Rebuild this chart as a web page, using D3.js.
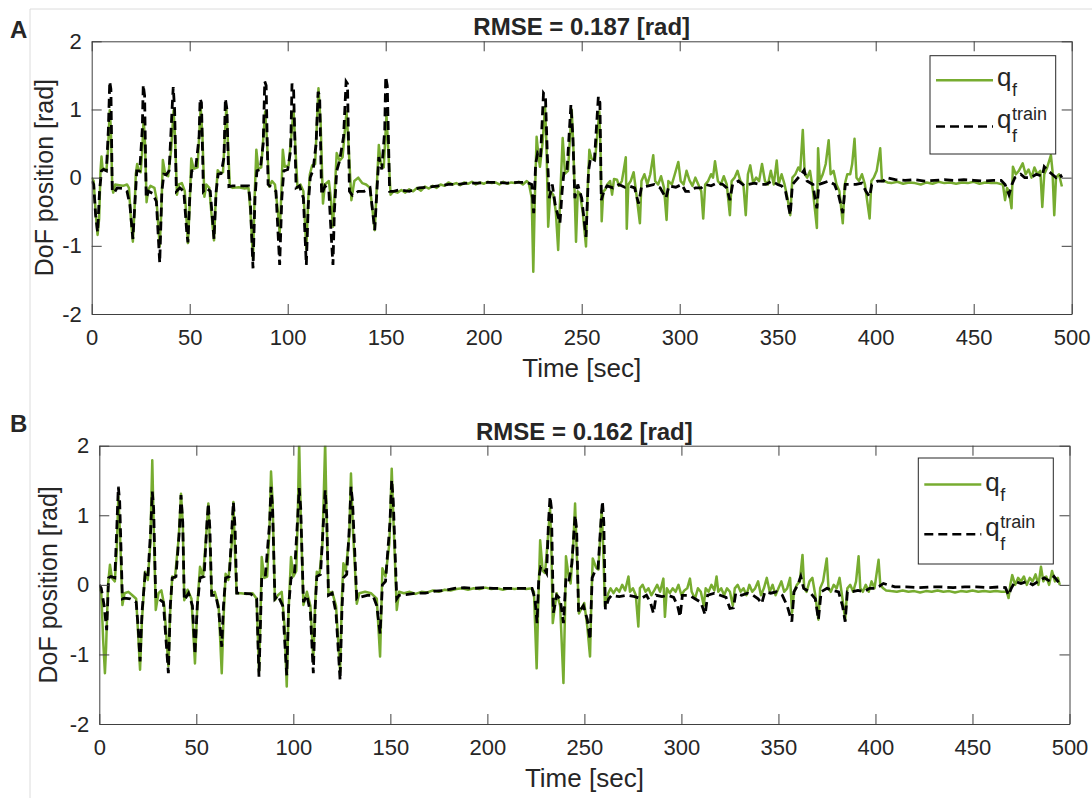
<!DOCTYPE html>
<html>
<head>
<meta charset="utf-8">
<script src="https://cdn.jsdelivr.net/npm/d3@7/dist/d3.min.js"></script>
<style>
  body { margin: 0; background: #fff; }
  svg text { font-family: "Liberation Sans", Arial, sans-serif; fill: #262626; }
</style>
</head>
<body>
<svg id="chart" width="1092" height="798"></svg>
<script>
// tick labels
const timeTicks = [0, 50, 100, 150, 200, 250, 300, 350, 400, 450, 500];
const posTicks = [-2, -1, 0, 1, 2];
const panelTitles = ['RMSE = 0.187 [rad]', 'RMSE = 0.162 [rad]'];
const panelLetters = ['A', 'B'];

// panel A: predicted q_f  [time sec, rad]
const predA = [[0,0.0],[1,-0.05],[2,-0.5],[3,-0.84],[3.8,-0.6],[4.5,0.1],[5,0.31],[5.5,0.15],[6.5,0.12],[7.5,0.1],[8.3,0.4],[9.2,0.99],[9.8,0.7],[10.5,-0.15],[11,-0.22],[12,-0.1],[14,-0.11],[16,-0.12],[18,-0.1],[19,-0.15],[20,-0.6],[21,-0.94],[21.8,-0.5],[22.5,0.05],[23.2,0.2],[24,0.1],[25,0.08],[25.8,0.4],[26.5,0.87],[27.2,0.5],[28,-0.36],[28.8,-0.18],[30,-0.12],[32,-0.15],[33,-0.3],[34.7,-1.01],[35.5,-0.5],[36.3,0.26],[37.5,0.05],[39,0.02],[40.5,0.4],[41.8,0.99],[42.5,0.6],[43.5,-0.25],[44.5,-0.1],[46,-0.08],[47.5,-0.2],[49.1,-0.96],[50,-0.4],[50.8,0.28],[52,0.13],[54,0.15],[55.6,1.04],[56.5,0.6],[57.5,-0.28],[58.5,-0.1],[60,-0.15],[61,-0.5],[62.4,-0.92],[63.3,-0.3],[64.3,0.11],[65.5,0.06],[67,0.08],[68.7,1.04],[69.5,0.5],[70.5,-0.13],[72,-0.15],[75,-0.14],[78,-0.16],[80,-0.15],[81,-0.5],[82.3,-1.2],[83,-0.4],[84,0.41],[85,0.13],[86.5,0.15],[88.5,0.97],[89.5,0.5],[90.5,-0.13],[92,-0.05],[93.5,-0.1],[95,-0.5],[95.9,-0.82],[96.8,-0.2],[97.5,0.41],[98.5,0.16],[100.5,0.18],[103,0.99],[104,0.4],[105,-0.15],[106.5,-0.1],[108,-0.2],[109.5,-1.05],[110.5,-0.3],[111.3,0.05],[112.5,0.18],[114,0.2],[115.7,1.31],[116.8,0.8],[118,-0.38],[119,-0.1],[121,-0.05],[122,-0.3],[123.1,-0.72],[124,-0.2],[125,0.36],[126.5,0.25],[128,0.3],[130,0.97],[131,0.5],[132.5,-0.33],[134,-0.05],[136,0.0],[138,-0.08],[140,-0.1],[142,-0.15],[144.4,-0.77],[145.5,-0.1],[146.5,0.48],[147.5,0.2],[149,0.15],[150.4,0.92],[151.3,0.4],[152.5,-0.25],[154,-0.2],
  [156,-0.22],[158,-0.18],[160,-0.22],[162,-0.17],[164,-0.2],[166,-0.15],[168,-0.19],[170,-0.13],[172,-0.16],[174,-0.12],[176,-0.15],[178,-0.1],[180,-0.12],[182,-0.07],[184,-0.1],[186,-0.08],[188,-0.11],[190,-0.07],[192,-0.09],[194,-0.06],[196,-0.1],[198,-0.07],[200,-0.09],[202,-0.06],[204,-0.08],[206,-0.07],[208,-0.1],[210,-0.06],[212,-0.09],[214,-0.07],[216,-0.08],[218,-0.06],[220,-0.1],[222,-0.05],[223,-0.08],
  [224.5,-0.3],[225.3,-1.38],[226,-0.4],[227,0.6],[228,0.3],[228.7,0.16],[230,0.5],[231.3,1.04],[232,0.5],[232.9,-0.72],[234,-0.2],[235.5,-0.25],[236.8,-0.5],[238,-1.06],[239,-0.3],[240.3,0.58],[241.5,0.06],[243,0.1],[244.9,1.0],[245.8,0.4],[247.1,-0.94],[248,-0.2],[249.1,-0.23],[250.5,-0.5],[252.2,-1.01],[253,-0.2],[253.9,0.41],[255,0.28],[256.8,0.26],[259,0.97],[259.6,0.4],[260.2,-0.64],[261,-0.2],[261.9,-0.18],
  [263,-0.1],[264.5,-0.05],[265.5,-0.25],[266.5,-0.02],[268,-0.03],[269,-0.12],[270.5,-0.05],[271.5,0.12],[272.5,0.3],[273,-0.75],[273.8,-0.1],[275,-0.05],[276.5,0.08],[277.5,-0.15],[279.7,-0.67],[280.5,-0.05],[282,0.05],[283.5,-0.1],[285,0.05],[286.5,0.33],[287.5,-0.05],[289,-0.1],[290.5,0.02],[292,-0.15],[293.3,-0.62],[294.2,-0.05],[296,-0.1],[297.5,0.05],[299.3,0.23],[300.5,-0.05],[302,-0.1],[303.5,0.1],[305,-0.04],[306.5,-0.12],[308,0.0],[309.5,-0.1],[311,-0.2],[312,-0.6],[313,-0.1],[314.5,-0.05],[316,0.05],[317,0.0],[318,0.24],[319.5,-0.05],[321,-0.1],[322.5,0.02],[324,-0.1],[325.6,-0.55],[326.5,-0.05],[328,0.0],[329.5,0.1],[331,-0.05],[332.5,-0.1],[333.7,-0.55],[334.8,0.05],[336,0.18],[337.5,-0.08],[339,0.0],[340.5,-0.05],[342,0.2],[343.5,-0.05],[345,-0.1],[346.5,0.1],[348,-0.1],[349.5,0.25],[350.5,-0.1],[352,0.05],[353.5,-0.1],[355,-0.3],[356.4,-0.55],[357.5,0.0],[359,0.05],[360.5,0.15],[361.5,0.1],[362.8,0.7],[363.8,0.05],[365,0.0],[366.5,0.1],[368,-0.2],[370,-0.74],[370.6,0.43],[371.5,-0.05],[373,0.05],[374.5,0.2],[376,0.55],[377,0.05],[378.5,0.1],[380,-0.1],[381.5,-0.2],[383.2,-0.67],[384.2,-0.1],[385.5,0.05],[387,0.05],[388,0.2],[389.2,0.57],[390.2,0.0],[391.5,-0.05],[393,0.05],[394.5,-0.1],[396.9,-0.6],[397.8,-0.05],[399,0.0],[400.5,0.1],[402.3,0.43],[403.2,-0.05],[404.5,-0.05],[406,-0.07],
  [408,-0.08],[411,-0.06],[414,-0.09],[417,-0.07],[420,-0.08],[423,-0.1],[426,-0.07],[429,-0.09],[432,-0.06],[435,-0.08],[438,-0.07],[441,-0.09],[444,-0.07],[447,-0.08],[450,-0.06],[453,-0.09],[456,-0.07],[459,-0.08],[462,-0.08],[464.9,-0.1],[466,-0.33],[467,-0.15],[468,-0.2],[469.3,-0.45],[470,0.16],[471.5,0.05],[473,0.1],[475,0.21],[476.5,0.05],[478,0.12],[479.5,0.0],[481,0.15],[482.5,0.05],[484,0.1],[485,-0.43],[486,0.05],[487.5,0.15],[489.4,0.33],[490.2,0.1],[491.1,-0.55],[492,0.0],[493.5,0.05],[495,-0.13]];

// panel A: training target q_f^train
const trainA = [[0,-0.05],[1,-0.1],[2,-0.55],[3,-0.8],[4,-0.2],[5,0.1],[6,0.12],[7.5,0.1],[8.5,0.7],[9.2,1.41],[9.8,1.3],[10.5,-0.2],[11.5,-0.22],[13,-0.15],[16,-0.16],[18,-0.2],[19.5,-0.4],[21,-0.9],[22,-0.4],[23,0.1],[24.5,0.1],[25.8,0.7],[26.3,1.36],[27,1.2],[27.8,-0.3],[29,-0.2],[31,-0.23],[33,-0.35],[34.7,-1.25],[35.8,-0.2],[36.8,0.05],[38,0.04],[39.5,0.1],[41,1.0],[41.6,1.33],[42.3,1.0],[43.2,-0.2],[45,-0.15],[47,-0.2],[48.5,-0.8],[49.1,-0.95],[50,-0.3],[51,0.1],[53,0.12],[54.8,0.6],[55.3,1.16],[56,1.1],[57,-0.2],[58.5,-0.15],[60.5,-0.2],[62.4,-0.9],[63.5,-0.2],[64.5,0.05],[66,0.06],[67.5,0.3],[68.2,1.16],[69,1.0],[70,-0.13],[72,-0.12],[76,-0.12],[80,-0.12],[81,-0.4],[82.3,-1.33],[83.3,-0.3],[84.3,0.1],[86,0.12],[87.5,0.5],[88.3,1.41],[89,1.35],[90,-0.1],[92,-0.15],[94,-0.2],[95.9,-1.28],[97,-0.3],[98,0.1],[100,0.12],[101.5,0.4],[102.2,1.38],[103,1.3],[104.3,-0.15],[106,-0.12],[108,-0.3],[109.5,-1.28],[110.5,-0.4],[111.5,0.0],[113,0.12],[114.5,0.5],[115.5,1.26],[116.3,1.2],[117.3,-0.25],[119,-0.12],[121,-0.2],[122.5,-1.0],[123.1,-1.28],[123.8,-0.5],[125,0.1],[126.5,0.25],[128.5,0.6],[129.8,1.41],[130.5,1.38],[131.5,-0.2],[133,-0.26],[136,-0.2],[139,-0.2],[142,-0.15],[144.4,-0.77],[145.5,-0.2],[146.5,0.3],[148,0.12],[149.5,0.7],[150,1.48],[150.8,1.35],[152,-0.2],[154,-0.2],
  [157,-0.18],[162,-0.2],[167,-0.15],[172,-0.14],[177,-0.12],[182,-0.1],[187,-0.1],[192,-0.08],[197,-0.08],[202,-0.07],[207,-0.07],[212,-0.08],[217,-0.07],[222,-0.07],
  [224.5,-0.1],[225.5,-0.52],[226.5,0.2],[227.5,0.36],[229,0.3],[230.5,1.24],[231.5,1.2],[232.5,0.3],[233.5,-0.3],[235,-0.1],[236.5,-0.4],[238.9,-0.67],[240,-0.2],[241,0.1],[242.5,0.1],[244.5,1.07],[245.5,0.6],[246.5,-0.3],[248,-0.1],[250,-0.3],[252.2,-0.87],[253.5,0.1],[254.5,0.29],[256.5,0.26],[258.5,1.19],[259.3,1.1],[260,-0.33],[261.5,-0.18],
  [263,-0.12],[266,-0.15],[269,-0.1],[272,-0.14],[274,-0.12],[277,-0.15],[279,-0.38],[280.5,-0.14],[284,-0.12],[287,-0.1],[290,-0.15],[293,-0.3],[294.5,-0.12],[298,-0.14],[301,-0.1],[303,-0.2],[305,-0.2],[308,-0.15],[311,-0.15],[313,-0.1],[316,-0.12],[319,-0.08],[322,-0.1],[324,-0.15],[325.6,-0.33],[327,-0.1],[330,-0.05],[333,-0.12],[335,-0.1],[338,-0.08],[341,-0.1],[344,-0.1],[347,-0.05],[350,-0.1],[352,-0.12],[354,-0.2],[356.4,-0.55],[357.5,-0.1],[359,-0.05],[362,0.05],[363.5,0.11],[365,-0.05],[368,-0.1],[369,-0.3],[370,-0.45],[371,-0.1],[373,-0.08],[376,-0.05],[379,-0.1],[381,-0.25],[383.2,-0.52],[384.5,-0.1],[387,-0.1],[390,-0.1],[393,-0.08],[395,-0.2],[396.9,-0.28],[398,-0.1],[401,-0.05],[404,-0.05],[405.4,0.0],
  [410,-0.03],[415,-0.04],[420,-0.03],[425,-0.05],[430,-0.04],[435,-0.03],[440,-0.04],[445,-0.03],[450,-0.04],[455,-0.05],[460,-0.04],[464,-0.04],[466,-0.1],[468,-0.25],[469.5,-0.1],[471,0.0],[474,0.05],[476,0.0],[479,0.0],[482,0.05],[485,0.02],[486,0.16],[488,0.1],[490,0.05],[492,0.0],[494,0.05],[495,0.0]];

// panel B: predicted q_f
const predB = [[0,-0.05],[1,-0.1],[2,-0.8],[2.9,-1.27],[3.5,-0.9],[4.5,0.0],[5.5,0.29],[6.5,0.1],[8,0.05],[9,0.5],[9.8,1.27],[10.6,0.8],[11.9,-0.29],[13,-0.12],[15,-0.1],[17,-0.15],[19,-0.2],[20,-0.7],[21,-1.22],[22,-0.5],[23.6,0.19],[25,0.07],[26.3,0.6],[27.3,1.79],[28,0.9],[29.1,-0.36],[30.5,-0.12],[32,-0.08],[33.5,-0.3],[35.6,-1.17],[36.5,-0.4],[37.6,0.12],[39,0.1],[41,0.7],[42.1,1.31],[43,0.9],[43.8,-0.22],[45.5,-0.07],[47.5,-0.2],[49.3,-1.13],[50.5,-0.3],[51.9,0.26],[53.5,0.12],[55.3,0.8],[56.2,1.17],[57,0.6],[57.9,-0.12],[59.5,-0.1],[61.5,-0.3],[63.1,-1.27],[64,-0.5],[65.1,0.16],[66.5,0.07],[68.3,0.6],[69.1,1.19],[70,0.4],[70.8,-0.12],[73,-0.12],[76,-0.13],[79,-0.12],[81.1,-0.2],[82.3,-1.25],[83.2,-0.3],[83.7,0.4],[85,0.1],[86.5,0.12],[87.7,0.8],[88.5,1.63],[89.3,1.2],[90.5,-0.22],[92,-0.15],[94,-0.1],[95.5,-0.6],[96.6,-1.46],[97.5,-0.4],[98.8,0.4],[100,0.12],[101.5,0.2],[102.3,1.0],[103,2.05],[103.8,1.0],[105.2,-0.29],[107,-0.1],[108.8,-0.3],[110.3,-1.08],[111.2,-0.3],[112.1,0.19],[113.5,0.15],[115,0.6],[116.4,2.05],[117.2,0.9],[118.1,-0.12],[120,-0.1],[122,-0.3],[124.1,-1.25],[125,-0.2],[125.8,0.31],[127,0.2],[128.8,0.7],[129.7,1.6],[130.7,0.8],[132.7,-0.27],[134,-0.12],[137,-0.1],[140,-0.12],[143,-0.2],[144.7,-1.03],[145.4,-0.3],[145.9,0.24],[147.5,0.12],[149.5,0.6],[150.7,1.67],[151.5,1.0],[153.3,-0.36],[154.5,-0.1],
  [157,-0.12],[160,-0.1],[163,-0.13],[166,-0.1],[169,-0.11],[172,-0.08],[175,-0.1],[178,-0.07],[181,-0.08],[184,-0.06],[187,-0.05],[190,-0.07],[193,-0.05],[196,-0.06],[199,-0.04],[202,-0.06],[205,-0.05],[208,-0.07],[211,-0.05],[214,-0.06],[217,-0.05],[220,-0.06],[223,-0.05],
  [224,-0.1],[225.4,-1.2],[226.3,-0.2],[227.2,0.64],[228.5,0.2],[229.7,0.17],[231,0.6],[232.3,1.1],[233,0.5],[233.7,-0.55],[235.7,-0.12],[237.5,-0.3],[239.2,-1.41],[240,-0.4],[240.5,0.41],[242,0.1],[242.9,0.02],[244.3,0.6],[245.2,1.17],[246,0.5],[247.2,-0.41],[249.9,-0.26],[251.5,-0.6],[252.9,-1.03],[253.6,-0.2],[254.3,0.38],[256,0.25],[257.2,0.22],[258.9,1.08],[259.6,0.6],[260.6,-0.31],[262.3,-0.12],
  [263.5,-0.05],[265,-0.12],[266.5,-0.05],[268,-0.1],[269.5,0.0],[271,-0.08],[272.7,0.12],[273.5,-0.1],[275,-0.05],[276.5,-0.15],[277.8,-0.6],[278.6,-0.05],[280,0.0],[281.5,-0.1],[283,-0.05],[284.5,-0.15],[286,-0.08],[287.5,0.0],[289,-0.1],[290.7,0.09],[291.5,-0.46],[292.5,-0.05],[294,-0.12],[295.5,-0.05],[297,-0.1],[298.5,0.0],[300,-0.15],[301.5,-0.08],[303,-0.05],[304.4,0.09],[305.3,-0.1],[307,-0.2],[308.5,-0.05],[310,-0.1],[311.5,-0.3],[312.5,-0.05],[314,-0.1],[315.5,0.0],[317,-0.08],[318.1,0.12],[319,-0.1],[320.5,-0.05],[322,-0.15],[323.5,-0.05],[325,-0.1],[326.5,-0.3],[327.5,-0.05],[329,0.0],[330.5,-0.1],[332,-0.05],[333.5,-0.15],[335,0.0],[336.5,-0.1],[338,-0.05],[339.5,0.05],[341,-0.15],[342.5,-0.05],[344,0.1],[345.5,-0.1],[347,0.0],[348.5,-0.15],[350,-0.05],[351.5,0.05],[353,-0.1],[354.5,-0.05],[356,0.1],[357,-0.4],[358,-0.1],[359.5,0.0],[361,0.05],[362.4,0.43],[363.3,-0.05],[364.5,-0.1],[366,0.05],[367.5,0.1],[369,-0.15],[370.6,-0.5],[371.5,-0.05],[373,0.05],[374.9,0.38],[375.8,-0.05],[377,-0.1],[378.5,0.0],[380,-0.05],[381.5,0.1],[383,-0.2],[384.4,-0.5],[385.5,-0.05],[387,0.0],[388.5,-0.1],[390,0.05],[391.3,0.41],[392.2,-0.05],[393.5,-0.1],[395,0.0],[396.5,-0.1],[398,0.05],[399.5,-0.05],[401.6,0.36],[402.5,0.0],[404,-0.05],[405.5,-0.08],
  [408,-0.09],[411,-0.1],[414,-0.08],[417,-0.1],[420,-0.09],[423,-0.11],[426,-0.09],[429,-0.1],[432,-0.08],[435,-0.1],[438,-0.09],[441,-0.11],[444,-0.09],[447,-0.1],[450,-0.08],[453,-0.1],[456,-0.09],[459,-0.1],[462,-0.09],[465,-0.1],[467.7,-0.1],[468.6,-0.19],[469.5,0.0],[470.5,0.14],[472,0.0],[473.5,0.1],[475,0.05],[476.5,0.12],[478,0.0],[479.5,0.1],[481,0.05],[482.5,0.15],[484,0.0],[485.3,0.26],[486.5,0.05],[488,0.12],[489.5,0.0],[491,0.2],[492.5,0.05],[494,0.1],[495,0.0]];

// panel B: training target q_f^train
const trainB = [[0,0.0],[1,-0.05],[2.5,-0.3],[3.8,-0.65],[4.8,0.1],[6,0.12],[8,0.1],[9,0.8],[9.8,1.41],[10.5,1.2],[11.9,-0.2],[13,-0.19],[16,-0.2],[19,-0.25],[20,-0.6],[21,-1.1],[22,-0.4],[23.6,0.15],[25,0.1],[26.5,0.8],[27.3,1.34],[28,1.1],[29.1,-0.2],[30.5,-0.2],[33,-0.25],[35.6,-1.27],[36.6,-0.3],[37.6,0.1],[39.5,0.12],[41.3,0.8],[42.1,1.29],[43,0.9],[43.8,-0.22],[46,-0.12],[48,-0.3],[49.3,-1.0],[50.5,-0.3],[51.9,0.1],[54,0.12],[55.5,0.9],[56.2,1.17],[57,0.8],[57.9,-0.15],[60,-0.15],[61.5,-0.35],[63.1,-0.89],[64,-0.3],[65.1,0.1],[67,0.12],[68.5,0.9],[69.1,1.19],[70,0.8],[70.8,-0.12],[74,-0.12],[78,-0.13],[81.1,-0.2],[82.3,-1.32],[83.7,0.1],[85.5,0.1],[87.8,0.9],[88.5,1.41],[89.3,1.1],[90.5,-0.2],[92,-0.15],[94.5,-0.3],[96.6,-1.3],[97.6,-0.3],[98.8,0.1],[100.5,0.12],[102.3,1.0],[103,1.39],[103.8,1.1],[105.2,-0.25],[107,-0.15],[108.8,-0.4],[110.3,-1.27],[111.3,-0.3],[112.1,0.12],[114,0.15],[115.7,1.0],[116.4,1.36],[117.2,1.0],[118.1,-0.15],[120,-0.12],[122,-0.4],[124.1,-1.37],[125,-0.4],[125.8,0.1],[127.5,0.15],[129,0.9],[129.7,1.41],[130.5,1.2],[132.7,-0.2],[134,-0.18],[138,-0.15],[141,-0.15],[143,-0.3],[144.7,-0.7],[145.9,0.0],[147.5,0.05],[149.8,0.9],[150.7,1.51],[151.5,1.2],[153.3,-0.2],[154.5,-0.15],
  [158,-0.14],[163,-0.12],[168,-0.12],[173,-0.09],[178,-0.08],[183,-0.05],[188,-0.04],[193,-0.05],[198,-0.04],[203,-0.05],[208,-0.05],[213,-0.05],[218,-0.05],[223,-0.05],
  [224.5,-0.2],[225.6,-0.55],[226.5,0.1],[227.5,0.26],[229,0.25],[230.5,0.17],[231.5,0.9],[232.3,1.27],[233,1.1],[234,-0.4],[235.7,-0.15],[237.5,-0.2],[239.2,-0.55],[240.5,0.1],[242,0.05],[243.5,0.3],[245.2,1.0],[246,0.8],[247,-0.4],[249.5,-0.3],[251.5,-0.5],[252.9,-0.79],[254,0.1],[255.5,0.2],[257,0.22],[258.5,0.9],[259.3,1.2],[260,0.9],[260.8,-0.35],[262.5,-0.2],
  [264,-0.15],[268,-0.17],[272,-0.15],[276,-0.17],[279,-0.2],[282,-0.15],[284,-0.25],[285.6,-0.41],[287,-0.15],[290,-0.17],[293,-0.15],[296,-0.18],[298,-0.3],[299.3,-0.46],[300.5,-0.15],[304,-0.15],[307,-0.2],[310,-0.25],[312.2,-0.43],[313.5,-0.15],[317,-0.12],[320,-0.15],[323,-0.18],[325,-0.34],[326.8,-0.33],[328,-0.12],[331,-0.15],[334,-0.12],[337,-0.15],[339.5,-0.2],[341.4,-0.27],[343,-0.1],[346,-0.12],[349,-0.1],[352,-0.15],[354.5,-0.3],[356.9,-0.53],[358,-0.1],[360,0.0],[361.5,0.12],[363,-0.05],[366,-0.1],[369,-0.2],[370.6,-0.5],[372,-0.1],[375,-0.05],[378,-0.08],[381,-0.1],[383,-0.3],[384.4,-0.53],[385.5,-0.1],[388,-0.1],[391,-0.08],[394,-0.1],[397,-0.05],[400,-0.05],[402,-0.02],[404.1,0.02],
  [410,-0.03],[416,-0.03],[422,-0.04],[428,-0.03],[434,-0.03],[440,-0.04],[446,-0.03],[452,-0.03],[458,-0.04],[464,-0.03],[467,-0.04],[468.6,-0.15],[470,-0.05],[472,0.05],[475,0.02],[478,0.05],[481,0.0],[484,0.05],[487,0.1],[490,0.05],[492,0.12],[494,0.05],[495,0.0]];

const green = '#77ac30';
const axisColor = '#404040';

const svg = d3.select('#chart');

// faint frame of the source figure
svg.append('line').attr('x1', 30).attr('x2', 30).attr('y1', 9).attr('y2', 798)
  .attr('stroke', '#dcdcdc').attr('stroke-width', 1);
svg.append('line').attr('x1', 30).attr('x2', 1092).attr('y1', 9).attr('y2', 9)
  .attr('stroke', '#dcdcdc').attr('stroke-width', 1);

const panels = [
  { left: 91.7, top: 41.3, width: 980, height: 272.7, pred: predA, train: trainA,
    legend: { x: 930, y: 55.7, w: 125.7, h: 98.3 }, letterY: 38, ylabelX: 44 },
  { left: 99.3, top: 445.7, width: 970.2, height: 278.3, pred: predB, train: trainB,
    legend: { x: 918.3, y: 458, w: 135, h: 106 }, letterY: 432, ylabelX: 48 },
];

panels.forEach(function(p, i) {
  var x = d3.scaleLinear().domain([0, 500]).range([0, p.width]);
  var y = d3.scaleLinear().domain([-2, 2]).range([p.height, 0]);
  var g = svg.append('g').attr('transform', 'translate(' + p.left + ',' + p.top + ')');

  g.append('clipPath').attr('id', 'clip' + i)
    .append('rect').attr('width', p.width).attr('height', p.height);

  var line = d3.line().x(d => x(d[0])).y(d => y(d[1]));
  var plot = g.append('g').attr('clip-path', 'url(#clip' + i + ')');
  plot.append('path').datum(p.pred).attr('d', line)
    .attr('fill', 'none').attr('stroke', green).attr('stroke-width', 2.5)
    .attr('stroke-linejoin', 'round');
  plot.append('path').datum(p.train).attr('d', line)
    .attr('fill', 'none').attr('stroke', '#000').attr('stroke-width', 2.8)
    .attr('stroke-dasharray', '9,5');

  // axes, MATLAB style: box with inward ticks on all sides
  var xb = g.append('g').attr('transform', 'translate(0,' + p.height + ')')
    .call(d3.axisBottom(x).tickValues(timeTicks).tickFormat(d => String(d))
      .tickSizeInner(-10).tickSizeOuter(0).tickPadding(15));
  var xt = g.append('g')
    .call(d3.axisTop(x).tickValues(timeTicks).tickFormat('')
      .tickSizeInner(-10).tickSizeOuter(0));
  var yl = g.append('g')
    .call(d3.axisLeft(y).tickValues(posTicks).tickFormat(d => String(d))
      .tickSizeInner(-10).tickSizeOuter(0).tickPadding(10));
  var yr = g.append('g').attr('transform', 'translate(' + p.width + ',0)')
    .call(d3.axisRight(y).tickValues(posTicks).tickFormat('')
      .tickSizeInner(-10).tickSizeOuter(0));
  [xb, xt, yl, yr].forEach(function(a) {
    a.selectAll('path.domain').attr('stroke', axisColor);
    a.selectAll('line').attr('stroke', axisColor);
    a.selectAll('text').attr('font-size', 22).attr('fill', '#262626')
      .attr('font-family', '"Liberation Sans", Arial, sans-serif');
  });

  // labels
  g.append('text').attr('x', p.width / 2).attr('y', p.height + 63)
    .attr('text-anchor', 'middle').attr('font-size', 26).text('Time [sec]');
  svg.append('text')
    .attr('transform', 'translate(' + p.ylabelX + ',' + (p.top + p.height / 2) + ') rotate(-90)')
    .attr('text-anchor', 'middle').attr('dominant-baseline', 'central')
    .attr('font-size', 25).text('DoF position [rad]');
  g.append('text').attr('x', p.width / 2).attr('y', -6)
    .attr('text-anchor', 'middle').attr('font-size', 24).attr('font-weight', 'bold')
    .text(panelTitles[i]);
  svg.append('text').attr('x', 10).attr('y', p.letterY)
    .attr('font-family', '"Open Sans", sans-serif').attr('font-weight', 'bold')
    .attr('font-size', 24).text(panelLetters[i]);

  // legend
  var L = p.legend;
  var lg = svg.append('g').attr('transform', 'translate(' + L.x + ',' + L.y + ')');
  lg.append('rect').attr('width', L.w).attr('height', L.h)
    .attr('fill', '#fff').attr('stroke', '#262626').attr('stroke-width', 1);
  var r1 = L.h * 0.25, r2 = L.h * 0.72;
  lg.append('line').attr('x1', 6).attr('x2', 63).attr('y1', r1).attr('y2', r1)
    .attr('stroke', green).attr('stroke-width', 2.5);
  lg.append('line').attr('x1', 6).attr('x2', 63).attr('y1', r2).attr('y2', r2)
    .attr('stroke', '#000').attr('stroke-width', 2.5).attr('stroke-dasharray', '9,5');
  lg.append('text').attr('x', 67).attr('y', r1 + 6).attr('font-size', 26).text('q');
  lg.append('text').attr('x', 82).attr('y', r1 + 16).attr('font-size', 18).text('f');
  lg.append('text').attr('x', 67).attr('y', r2 + 2).attr('font-size', 26).text('q');
  lg.append('text').attr('x', 82).attr('y', r2 + 16).attr('font-size', 18).text('f');
  lg.append('text').attr('x', 82).attr('y', r2 - 6).attr('font-size', 18).text('train');
});
</script>
</body>
</html>
